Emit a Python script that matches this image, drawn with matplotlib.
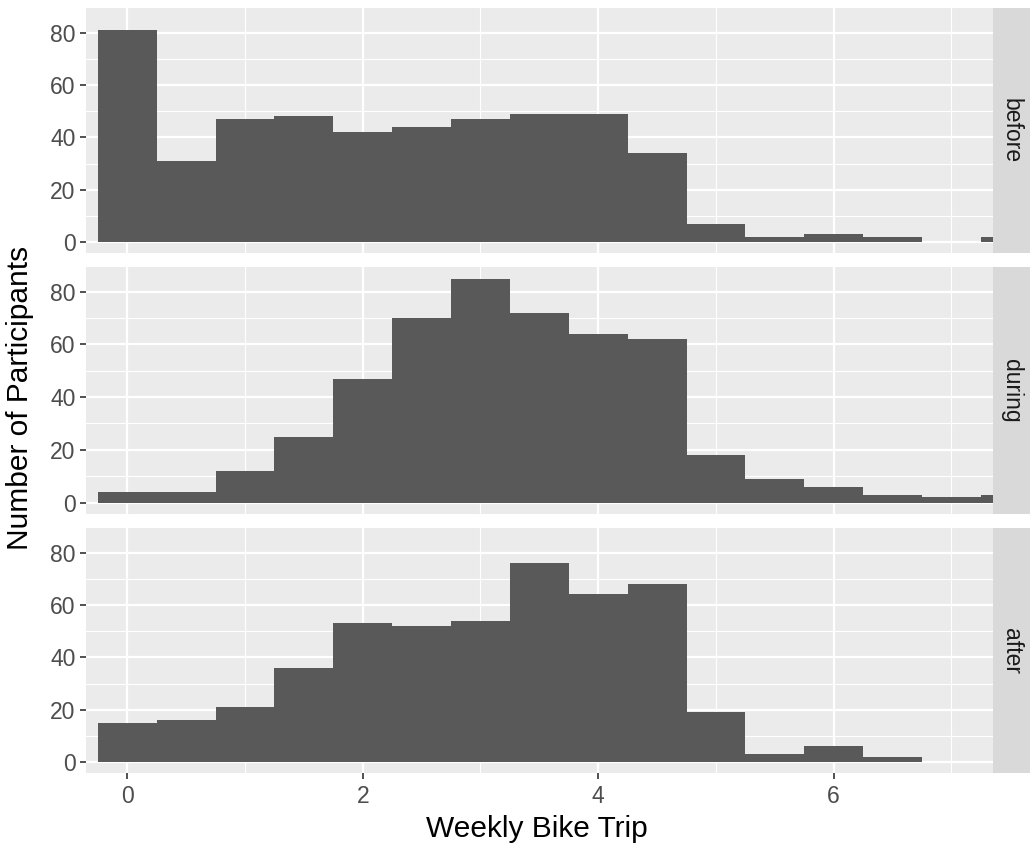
import matplotlib
matplotlib.use("Agg")
from matplotlib import pyplot as plt
from matplotlib.ticker import MultipleLocator

plt.rcParams['font.family'] = ['Liberation Sans', 'DejaVu Sans']

# histogram bins (width 0.5), centred on these values
bin_centers = [0, 0.5, 1, 1.5, 2, 2.5, 3, 3.5, 4, 4.5, 5, 5.5, 6, 6.5, 7, 7.5]
before = [81, 31, 47, 48, 42, 44, 47, 49, 49, 34, 7, 2, 3, 2, 0, 2]
during = [4, 4, 12, 25, 47, 70, 85, 72, 64, 62, 18, 9, 6, 3, 2, 3]
after = [15, 16, 21, 36, 53, 52, 54, 76, 64, 68, 19, 3, 6, 2, 0, 0]
panels = ["before", "during", "after"]
x_ticks = [0, 2, 4, 6]
y_ticks = [0, 20, 40, 60, 80]

W, H = 1030, 844
fig = plt.figure(figsize=(W / 100, H / 100), dpi=100)

# panel pixel boxes: (top, bottom)
boxes = [(8.3, 253.3), (267.3, 513.7), (528.3, 773.3)]
left, right = 86, 992.7

for i, (name, counts) in enumerate(zip(panels, [before, during, after])):
    top, bot = boxes[i]
    ax = fig.add_axes([left / W, 1 - bot / H, (right - left) / W, (bot - top) / H])
    ax.set_facecolor("#EBEBEB")
    ax.bar(bin_centers, counts, width=0.5, color="#595959", linewidth=0, zorder=3)
    ax.set_xlim(-0.35, 7.35)
    ax.set_ylim(-4.25, 89.25)
    ax.set_xticks(x_ticks)
    ax.set_yticks(y_ticks)
    ax.xaxis.set_minor_locator(MultipleLocator(1))
    ax.yaxis.set_minor_locator(MultipleLocator(10))
    ax.grid(which="major", color="white", linewidth=1.6, zorder=1)
    ax.grid(which="minor", color="white", linewidth=0.8, zorder=1)
    ax.set_axisbelow(True)
    for s in ax.spines.values():
        s.set_visible(False)
    ax.tick_params(which="minor", length=0)
    ax.tick_params(which="major", length=4.5, width=1.2, color="#333333",
                   labelsize=16.5, labelcolor="#4D4D4D", pad=3)
    if i < 2:
        ax.tick_params(axis="x", which="major", length=0, labelbottom=False)
    else:
        ax.tick_params(axis="x", pad=4)

    # facet strip on the right
    sax = fig.add_axes([right / W, 1 - bot / H, (W - right) / W, (bot - top) / H])
    sax.set_facecolor("#D9D9D9")
    sax.set_xticks([])
    sax.set_yticks([])
    for s in sax.spines.values():
        s.set_visible(False)
    sax.text(0.5, 0.5, name, rotation=270, ha="center", va="center",
             fontsize=16.5, color="#1A1A1A", transform=sax.transAxes)

fig.text(0.5217, 0.0087, "Weekly Bike Trip", ha="center", va="baseline",
         fontsize=21.5, color="black")
fig.text(0.0195, 0.529, "Number of Participants", ha="center", va="center",
         rotation=90, fontsize=21.5, color="black")

fig.savefig("out.png", dpi=100)
